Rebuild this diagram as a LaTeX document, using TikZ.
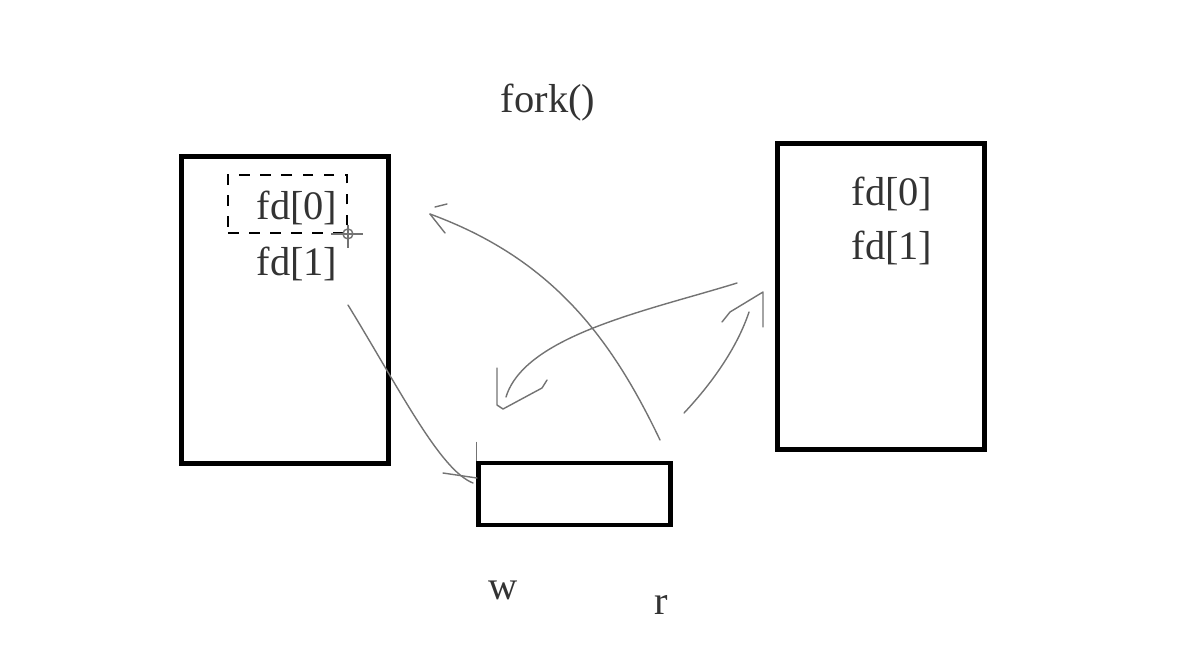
\documentclass[tikz,border=0pt]{standalone}
\usepackage{fontspec}
\setmainfont{Liberation Serif}
\usepackage{tikz}
\usetikzlibrary{calc}

\begin{document}
\begin{tikzpicture}[x=0.01cm,y=-0.01cm,
  font=\fontsize{11.5}{14}\selectfont,
  box/.style={draw,line width=1.4pt,inner sep=0pt},
  sel/.style={draw,dashed,line width=0.5pt,inner sep=0pt},
  lbl/.style={text=black!80,inner sep=0pt},
  pen/.style={draw=black!55,line width=0.4pt,line cap=round,line join=round}]
\useasboundingbox (0,0) rectangle (1201,654);
% processes and pipe buffer
\node[box,minimum width=2.06cm,minimum height=3.06cm] (parent) at (285,310) {};
\node[box,minimum width=2.06cm,minimum height=3.05cm] (child) at (881,296.5) {};
\node[box,minimum width=1.91cm,minimum height=0.62cm] (pipe) at (574.5,494) {};
\node[sel,minimum width=1.19cm,minimum height=0.58cm] (mark) at (287.5,204) {};
\node[lbl] (fork) at (548,103) {fork()};
\node[lbl] (pfd0) at (297,208) {fd[0]};
\node[lbl] (pfd1) at (297,264) {fd[1]};
\node[lbl] (cfd0) at (892,194) {fd[0]};
\node[lbl] (cfd1) at (892,248) {fd[1]};
\node[lbl] (wend) at (503,590) {w};
\node[lbl] (rend) at (661,605) {r};
% cursor
\coordinate (cur) at (mark.south east);
\draw[black!55,line width=0.4pt] (cur) circle (5);
\draw[black!55,line width=0.4pt] ($(cur)+(-17,0)$) -- ($(cur)+(15,0)$)
  ($(cur)+(0,-9)$) -- ($(cur)+(0,14)$);
% hand drawn arrows
\coordinate (wa) at (348,305);  \coordinate (wb) at (473,483);
\coordinate (ra) at (660,440);  \coordinate (rb) at (430,214);
\coordinate (ca) at (737,283);  \coordinate (cb) at (506,397);
\coordinate (da) at (684,413);  \coordinate (db) at (749,312);
\draw[pen] (wa) .. controls (400,390) and (440,470) .. (wb);
\draw[pen] (443,473) -- (477,478);
\draw[pen] (pipe.north west) -- ++(0,-18);
\draw[pen] (ra) .. controls (610,335) and (550,258) .. (rb);
\draw[pen] (rb) -- (445,233);
\draw[pen] (435,207) -- (447,204);
\draw[pen] (ca) .. controls (650,310) and (525,335) .. (cb);
\draw[pen] (497,368) -- (497,405) -- (503,409) -- (542,388) -- (547,380);
\draw[pen] (da) .. controls (715,380) and (738,345) .. (db);
\draw[pen] (722,322) -- (730,312) -- (763,292) -- (763,327);
\end{tikzpicture}
\end{document}
